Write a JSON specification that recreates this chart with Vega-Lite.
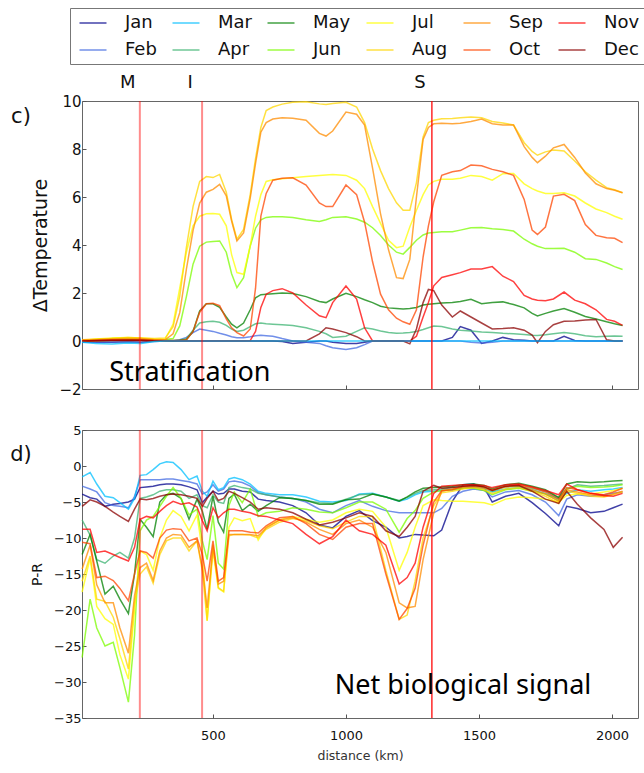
{
"$schema": "https://vega.github.io/schema/vega-lite/v6.json",
"autosize": {"type": "pad"},
"padding": {"left": 9, "top": 7, "right": 6, "bottom": 6},
"bounds": "flush",
"spacing": 41,
"background": "white",
"config": {
  "view": {"stroke": "#666", "strokeWidth": 1},
  "font": "DejaVu Sans",
  "axis": {"grid": false, "domain": false, "tickSize": -4, "tickColor": "#555", "labelFont": "DejaVu Sans", "titleFont": "DejaVu Sans", "titleFontWeight": "normal", "labelColor": "#111", "titleColor": "#111", "labelOverlap": false, "format": "d"}
},
"datasets": {
  "vl": [{"lab": "M", "d": 225}, {"lab": "I", "d": 459}, {"lab": "S", "d": 1323}],
  "annTop": [{"lab": "c)", "d": -222, "v": 9.33}],
  "annBot": [{"lab": "d)", "d": -222, "v": 1.53}],
  "txtTop": [{"lab": "Stratification", "d": 413, "v": -1.67}],
  "txtBot": [{"lab": "Net biological signal", "d": 1440, "v": -31.67}],
  "temp": [
{"d":8,"Jan":-0.05,"Feb":-0.05,"Mar":-0.05,"Apr":0,"May":0,"Jun":0,"Jul":0.02,"Aug":0.05,"Sep":0.05,"Oct":0,"Nov":0,"Dec":0},
{"d":60,"Jan":-0.05,"Feb":-0.05,"Mar":-0.1,"Apr":0,"May":0.02,"Jun":0.05,"Jul":0.08,"Aug":0.08,"Sep":0.05,"Oct":0.02,"Nov":0.01,"Dec":0.02},
{"d":120,"Jan":-0.05,"Feb":-0.04,"Mar":-0.12,"Apr":0.02,"May":0.03,"Jun":0.1,"Jul":0.12,"Aug":0.1,"Sep":0.08,"Oct":0.05,"Nov":0.02,"Dec":0.03},
{"d":180,"Jan":-0.03,"Feb":-0.03,"Mar":-0.08,"Apr":0.03,"May":0.05,"Jun":0.12,"Jul":0.15,"Aug":0.15,"Sep":0.1,"Oct":0.05,"Nov":0.02,"Dec":0.03},
{"d":230,"Jan":-0.05,"Feb":-0.05,"Mar":-0.1,"Apr":0.02,"May":0.04,"Jun":0.08,"Jul":0.12,"Aug":0.12,"Sep":0.1,"Oct":0.05,"Nov":0.02,"Dec":0.03},
{"d":280,"Jan":0,"Feb":-0.02,"Mar":-0.02,"Apr":0.01,"May":0.02,"Jun":0.05,"Jul":0.08,"Aug":0.1,"Sep":0.05,"Oct":0.03,"Nov":0.01,"Dec":0.01},
{"d":320,"Jan":0,"Feb":0,"Mar":0,"Apr":0.01,"May":0.02,"Jun":0.06,"Jul":0.07,"Aug":0.12,"Sep":0.05,"Oct":0.02,"Nov":0.01,"Dec":0.01},
{"d":350,"Jan":0,"Feb":0,"Mar":0,"Apr":0.01,"May":0.02,"Jun":0.1,"Jul":0.7,"Aug":0.6,"Sep":0.3,"Oct":0.02,"Nov":0.01,"Dec":0},
{"d":375,"Jan":0,"Feb":0.05,"Mar":0,"Apr":0.03,"May":0.03,"Jun":0.63,"Jul":2.2,"Aug":1.87,"Sep":1.18,"Oct":0.02,"Nov":0.01,"Dec":0},
{"d":400,"Jan":0,"Feb":0.15,"Mar":0,"Apr":0.1,"May":0.05,"Jun":1.85,"Jul":3.7,"Aug":3.9,"Sep":2.99,"Oct":0.05,"Nov":0.01,"Dec":0},
{"d":425,"Jan":0,"Feb":0.35,"Mar":0,"Apr":0.45,"May":0.4,"Jun":3.2,"Jul":4.8,"Aug":5.6,"Sep":4.6,"Oct":0.4,"Nov":0.01,"Dec":0},
{"d":450,"Jan":0,"Feb":0.5,"Mar":0,"Apr":0.75,"May":1.25,"Jun":3.95,"Jul":5.2,"Aug":6.65,"Sep":5.75,"Oct":1.2,"Nov":0.01,"Dec":0},
{"d":475,"Jan":0,"Feb":0.45,"Mar":0,"Apr":0.8,"May":1.55,"Jun":4.12,"Jul":5.3,"Aug":6.85,"Sep":6.2,"Oct":1.55,"Nov":0.01,"Dec":0},
{"d":500,"Jan":0,"Feb":0.4,"Mar":0,"Apr":0.82,"May":1.55,"Jun":4.15,"Jul":5.31,"Aug":6.81,"Sep":6.32,"Oct":1.57,"Nov":0.01,"Dec":0},
{"d":525,"Jan":0,"Feb":0.32,"Mar":0,"Apr":0.78,"May":1.4,"Jun":4.17,"Jul":5.28,"Aug":6.94,"Sep":6.53,"Oct":1.47,"Nov":0.01,"Dec":0},
{"d":550,"Jan":0,"Feb":0.25,"Mar":0,"Apr":0.65,"May":1.0,"Jun":3.7,"Jul":4.8,"Aug":6.2,"Sep":6.05,"Oct":0.92,"Nov":0.01,"Dec":0},
{"d":570,"Jan":0,"Feb":0.18,"Mar":0,"Apr":0.5,"May":0.7,"Jun":2.8,"Jul":3.6,"Aug":5.07,"Sep":5.0,"Oct":0.55,"Nov":0.01,"Dec":0},
{"d":590,"Jan":0,"Feb":0.14,"Mar":0,"Apr":0.4,"May":0.55,"Jun":2.22,"Jul":2.85,"Aug":4.24,"Sep":4.17,"Oct":0.35,"Nov":0.01,"Dec":0},
{"d":615,"Jan":0,"Feb":0.14,"Mar":0,"Apr":0.45,"May":0.75,"Jun":2.64,"Jul":2.78,"Aug":4.65,"Sep":4.5,"Oct":0.21,"Nov":0.01,"Dec":0},
{"d":640,"Jan":0,"Feb":0.18,"Mar":0,"Apr":0.6,"May":1.3,"Jun":3.96,"Jul":3.96,"Aug":6.1,"Sep":5.95,"Oct":0.5,"Nov":0.02,"Dec":0},
{"d":660,"Jan":0,"Feb":0.22,"Mar":0,"Apr":0.72,"May":1.8,"Jun":4.7,"Jul":5.2,"Aug":7.6,"Sep":7.4,"Oct":2.2,"Nov":0.4,"Dec":0},
{"d":680,"Jan":0,"Feb":0.24,"Mar":0,"Apr":0.75,"May":1.93,"Jun":5.05,"Jul":6.1,"Aug":8.9,"Sep":8.7,"Oct":5.2,"Nov":1.4,"Dec":0},
{"d":700,"Jan":0,"Feb":0.22,"Mar":0,"Apr":0.72,"May":1.95,"Jun":5.15,"Jul":6.65,"Aug":9.6,"Sep":9.1,"Oct":6.15,"Nov":1.95,"Dec":0},
{"d":725,"Jan":0,"Feb":0.2,"Mar":0,"Apr":0.7,"May":1.97,"Jun":5.18,"Jul":6.72,"Aug":9.75,"Sep":9.25,"Oct":6.7,"Nov":2.1,"Dec":0},
{"d":760,"Jan":-0.02,"Feb":0.1,"Mar":0,"Apr":0.68,"May":2.0,"Jun":5.18,"Jul":6.76,"Aug":9.87,"Sep":9.3,"Oct":6.78,"Nov":2.18,"Dec":0},
{"d":800,"Jan":-0.1,"Feb":0,"Mar":0,"Apr":0.65,"May":1.98,"Jun":5.15,"Jul":6.8,"Aug":9.95,"Sep":9.28,"Oct":6.8,"Nov":2.0,"Dec":0},
{"d":850,"Jan":-0.05,"Feb":-0.05,"Mar":0,"Apr":0.55,"May":1.85,"Jun":5.05,"Jul":6.85,"Aug":9.97,"Sep":9.2,"Oct":6.5,"Nov":1.5,"Dec":0},
{"d":900,"Jan":0,"Feb":-0.1,"Mar":0,"Apr":0.4,"May":1.65,"Jun":4.98,"Jul":6.9,"Aug":9.88,"Sep":8.65,"Oct":5.75,"Nov":1.05,"Dec":0.3},
{"d":925,"Jan":0,"Feb":-0.2,"Mar":0,"Apr":0.3,"May":1.6,"Jun":5.05,"Jul":6.92,"Aug":9.85,"Sep":8.54,"Oct":5.6,"Nov":0.97,"Dec":0.55},
{"d":950,"Jan":-0.05,"Feb":-0.28,"Mar":0,"Apr":0.15,"May":1.75,"Jun":5.15,"Jul":6.94,"Aug":9.9,"Sep":8.75,"Oct":5.6,"Nov":1.6,"Dec":0.5},
{"d":1000,"Jan":-0.1,"Feb":-0.35,"Mar":0,"Apr":0.2,"May":1.99,"Jun":5.18,"Jul":6.9,"Aug":9.95,"Sep":9.54,"Oct":6.5,"Nov":2.29,"Dec":0.35},
{"d":1040,"Jan":-0.1,"Feb":-0.28,"Mar":0,"Apr":0.4,"May":1.85,"Jun":5.08,"Jul":6.7,"Aug":9.75,"Sep":9.45,"Oct":6.1,"Nov":1.75,"Dec":0.18},
{"d":1070,"Jan":-0.05,"Feb":-0.15,"Mar":0,"Apr":0.55,"May":1.72,"Jun":4.95,"Jul":6.35,"Aug":9.1,"Sep":9.0,"Oct":4.95,"Nov":0.55,"Dec":0},
{"d":1100,"Jan":0,"Feb":0,"Mar":0,"Apr":0.5,"May":1.6,"Jun":4.72,"Jul":5.6,"Aug":8.0,"Sep":7.2,"Oct":3.3,"Nov":0,"Dec":0},
{"d":1130,"Jan":0,"Feb":0,"Mar":0,"Apr":0.42,"May":1.45,"Jun":4.4,"Jul":4.9,"Aug":7.1,"Sep":5.3,"Oct":1.95,"Nov":0,"Dec":0},
{"d":1160,"Jan":0,"Feb":0,"Mar":0,"Apr":0.35,"May":1.38,"Jun":4.0,"Jul":4.2,"Aug":6.35,"Sep":3.8,"Oct":1.3,"Nov":0,"Dec":0},
{"d":1190,"Jan":0,"Feb":0,"Mar":0,"Apr":0.32,"May":1.35,"Jun":3.7,"Jul":3.89,"Aug":5.76,"Sep":2.64,"Oct":0.95,"Nov":0,"Dec":0},
{"d":1215,"Jan":0,"Feb":0,"Mar":0,"Apr":0.33,"May":1.33,"Jun":3.62,"Jul":3.95,"Aug":5.45,"Sep":2.6,"Oct":0.8,"Nov":0,"Dec":0},
{"d":1240,"Jan":0,"Feb":0,"Mar":0,"Apr":0.35,"May":1.35,"Jun":3.9,"Jul":4.75,"Aug":5.45,"Sep":3.4,"Oct":0.7,"Nov":0,"Dec":-0.12},
{"d":1265,"Jan":0,"Feb":0,"Mar":0,"Apr":0.4,"May":1.4,"Jun":4.2,"Jul":5.45,"Aug":6.6,"Sep":6.0,"Oct":1.3,"Nov":0.2,"Dec":0.5},
{"d":1290,"Jan":0,"Feb":0,"Mar":0,"Apr":0.48,"May":1.5,"Jun":4.42,"Jul":6.1,"Aug":8.5,"Sep":8.4,"Oct":3.5,"Nov":1.0,"Dec":1.6},
{"d":1310,"Jan":0,"Feb":0,"Mar":0,"Apr":0.55,"May":1.53,"Jun":4.5,"Jul":6.5,"Aug":9.1,"Sep":8.9,"Oct":4.8,"Nov":1.6,"Dec":2.15},
{"d":1330,"Jan":0,"Feb":0,"Mar":0,"Apr":0.62,"May":1.55,"Jun":4.52,"Jul":6.65,"Aug":9.2,"Sep":9.05,"Oct":5.8,"Nov":2.3,"Dec":2.1},
{"d":1360,"Jan":0,"Feb":0,"Mar":0,"Apr":0.6,"May":1.58,"Jun":4.55,"Jul":6.74,"Aug":9.26,"Sep":9.07,"Oct":6.9,"Nov":2.65,"Dec":1.5},
{"d":1400,"Jan":0.15,"Feb":0,"Mar":0,"Apr":0.5,"May":1.6,"Jun":4.55,"Jul":6.74,"Aug":9.27,"Sep":9.05,"Oct":7.05,"Nov":2.76,"Dec":1.0},
{"d":1430,"Jan":0.6,"Feb":0,"Mar":0,"Apr":0.45,"May":1.65,"Jun":4.62,"Jul":6.78,"Aug":9.3,"Sep":9.07,"Oct":7.1,"Nov":2.85,"Dec":1.25},
{"d":1470,"Jan":0.45,"Feb":-0.05,"Mar":0,"Apr":0.42,"May":1.74,"Jun":4.72,"Jul":6.9,"Aug":9.33,"Sep":9.15,"Oct":7.33,"Nov":3.0,"Dec":1.0},
{"d":1510,"Jan":-0.1,"Feb":-0.08,"Mar":0,"Apr":0.38,"May":1.55,"Jun":4.73,"Jul":6.85,"Aug":9.3,"Sep":9.25,"Oct":7.3,"Nov":3.0,"Dec":0.75},
{"d":1550,"Jan":0,"Feb":-0.05,"Mar":0,"Apr":0.35,"May":1.6,"Jun":4.68,"Jul":6.7,"Aug":9.15,"Sep":9.05,"Oct":7.15,"Nov":3.1,"Dec":0.5},
{"d":1590,"Jan":0.15,"Feb":0,"Mar":0,"Apr":0.32,"May":1.63,"Jun":4.65,"Jul":6.97,"Aug":9.08,"Sep":9.0,"Oct":7.05,"Nov":2.7,"Dec":0.52},
{"d":1630,"Jan":0.05,"Feb":0,"Mar":0,"Apr":0.3,"May":1.52,"Jun":4.58,"Jul":6.98,"Aug":9.0,"Sep":9.0,"Oct":6.9,"Nov":2.48,"Dec":0.55},
{"d":1670,"Jan":0.03,"Feb":0,"Mar":0,"Apr":0.27,"May":1.38,"Jun":4.24,"Jul":6.55,"Aug":8.26,"Sep":8.1,"Oct":5.9,"Nov":1.9,"Dec":0.45},
{"d":1700,"Jan":0,"Feb":0,"Mar":0,"Apr":0.24,"May":1.15,"Jun":4.05,"Jul":6.35,"Aug":7.9,"Sep":7.65,"Oct":4.62,"Nov":1.75,"Dec":0.25},
{"d":1720,"Jan":0,"Feb":0,"Mar":0,"Apr":0.23,"May":1.04,"Jun":3.95,"Jul":6.25,"Aug":7.74,"Sep":7.43,"Oct":4.44,"Nov":1.7,"Dec":-0.07},
{"d":1750,"Jan":0,"Feb":0,"Mar":0,"Apr":0.26,"May":1.15,"Jun":3.85,"Jul":6.15,"Aug":7.88,"Sep":7.7,"Oct":4.75,"Nov":1.68,"Dec":0.4},
{"d":1780,"Jan":0,"Feb":0,"Mar":0,"Apr":0.3,"May":1.25,"Jun":3.85,"Jul":6.15,"Aug":7.96,"Sep":8.05,"Oct":6.04,"Nov":1.75,"Dec":0.68},
{"d":1820,"Jan":0.2,"Feb":0,"Mar":0,"Apr":0.35,"May":1.35,"Jun":3.86,"Jul":6.18,"Aug":7.92,"Sep":8.19,"Oct":6.11,"Nov":2.04,"Dec":0.82},
{"d":1860,"Jan":0.02,"Feb":0,"Mar":0,"Apr":0.3,"May":1.2,"Jun":3.7,"Jul":6.04,"Aug":7.5,"Sep":7.65,"Oct":5.85,"Nov":1.7,"Dec":0.83},
{"d":1900,"Jan":0,"Feb":0,"Mar":0,"Apr":0.22,"May":1.02,"Jun":3.43,"Jul":5.75,"Aug":7.05,"Sep":7.0,"Oct":4.85,"Nov":1.55,"Dec":0.88},
{"d":1940,"Jan":0,"Feb":0,"Mar":0,"Apr":0.18,"May":0.92,"Jun":3.4,"Jul":5.5,"Aug":6.7,"Sep":6.55,"Oct":4.4,"Nov":1.3,"Dec":0.9},
{"d":1980,"Jan":0,"Feb":0,"Mar":0,"Apr":0.2,"May":0.8,"Jun":3.25,"Jul":5.35,"Aug":6.39,"Sep":6.35,"Oct":4.3,"Nov":0.9,"Dec":0.05},
{"d":2010,"Jan":0,"Feb":0,"Mar":0,"Apr":0.21,"May":0.72,"Jun":3.1,"Jul":5.2,"Aug":6.3,"Sep":6.28,"Oct":4.28,"Nov":0.82,"Dec":0},
{"d":2040,"Jan":0,"Feb":0,"Mar":0,"Apr":0.2,"May":0.65,"Jun":2.98,"Jul":5.07,"Aug":6.18,"Sep":6.18,"Oct":4.1,"Nov":0.65,"Dec":0}
  ],
  "pr": [
{"d":8,"Jan":-3.9,"Feb":-2.8,"Mar":-1.5,"Apr":-7.5,"May":-12.3,"Jun":-26.6,"Jul":-17.5,"Aug":-16.0,"Sep":-14.3,"Oct":-10.6,"Nov":-8.8,"Dec":-5.6},
{"d":38,"Jan":-4.4,"Feb":-3.2,"Mar":-0.9,"Apr":-9.6,"May":-9.5,"Jun":-18.5,"Jul":-12.8,"Aug":-12.5,"Sep":-11.0,"Oct":-10.8,"Nov":-8.8,"Dec":-4.7},
{"d":63,"Jan":-4.6,"Feb":-3.6,"Mar":-2.5,"Apr":-13.0,"May":-13.2,"Jun":-22.5,"Jul":-19.5,"Aug":-18.5,"Sep":-16.5,"Oct":-15.5,"Nov":-12.0,"Dec":-5.0},
{"d":94,"Jan":-5.6,"Feb":-5.1,"Mar":-4.2,"Apr":-13.5,"May":-17.8,"Jun":-25.0,"Jul":-21.2,"Aug":-18.8,"Sep":-19.0,"Oct":-15.3,"Nov":-11.8,"Dec":-5.6},
{"d":125,"Jan":-5.3,"Feb":-5.5,"Mar":-4.4,"Apr":-12.5,"May":-16.7,"Jun":-24.5,"Jul":-22.0,"Aug":-21.0,"Sep":-19.0,"Oct":-15.9,"Nov":-12.3,"Dec":-6.4},
{"d":150,"Jan":-5.2,"Feb":-5.6,"Mar":-5.1,"Apr":-12.0,"May":-18.5,"Jun":-28.0,"Jul":-26.2,"Aug":-24.0,"Sep":-22.5,"Oct":-17.0,"Nov":-12.7,"Dec":-7.0},
{"d":182,"Jan":-5.0,"Feb":-5.8,"Mar":-6.0,"Apr":-12.8,"May":-20.5,"Jun":-32.8,"Jul":-29.6,"Aug":-28.2,"Sep":-26.0,"Oct":-18.7,"Nov":-13.2,"Dec":-7.7},
{"d":205,"Jan":-4.6,"Feb":-4.2,"Mar":-4.5,"Apr":-10.0,"May":-15.0,"Jun":-23.5,"Jul":-20.0,"Aug":-19.0,"Sep":-18.0,"Oct":-15.0,"Nov":-11.3,"Dec":-6.0},
{"d":226,"Jan":-3.0,"Feb":-1.9,"Mar":-1.3,"Apr":-4.5,"May":-7.4,"Jun":-9.0,"Jul":-11.8,"Aug":-15.0,"Sep":-14.1,"Oct":-11.8,"Nov":-7.4,"Dec":-4.6},
{"d":250,"Jan":-2.9,"Feb":-1.9,"Mar":-1.2,"Apr":-4.3,"May":-8.5,"Jun":-7.5,"Jul":-12.3,"Aug":-14.0,"Sep":-13.5,"Oct":-12.0,"Nov":-7.0,"Dec":-4.7},
{"d":275,"Jan":-2.8,"Feb":-1.9,"Mar":-0.5,"Apr":-4.0,"May":-9.8,"Jun":-7.0,"Jul":-14.5,"Aug":-16.3,"Sep":-15.9,"Oct":-12.8,"Nov":-7.2,"Dec":-4.5},
{"d":300,"Jan":-2.6,"Feb":-1.9,"Mar":0.3,"Apr":-3.5,"May":-5.0,"Jun":-5.6,"Jul":-10.0,"Aug":-12.3,"Sep":-11.8,"Oct":-10.0,"Nov":-6.3,"Dec":-4.2},
{"d":325,"Jan":-2.5,"Feb":-1.8,"Mar":0.6,"Apr":-3.3,"May":-4.0,"Jun":-4.2,"Jul":-7.5,"Aug":-10.4,"Sep":-10.0,"Oct":-8.9,"Nov":-5.5,"Dec":-4.0},
{"d":350,"Jan":-2.5,"Feb":-1.8,"Mar":0.5,"Apr":-3.3,"May":-3.8,"Jun":-3.0,"Jul":-6.2,"Aug":-10.0,"Sep":-9.5,"Oct":-8.7,"Nov":-4.9,"Dec":-3.9},
{"d":380,"Jan":-2.6,"Feb":-2.0,"Mar":-0.5,"Apr":-3.5,"May":-4.5,"Jun":-4.5,"Jul":-7.0,"Aug":-10.0,"Sep":-9.6,"Oct":-8.8,"Nov":-5.3,"Dec":-4.0},
{"d":410,"Jan":-2.9,"Feb":-2.2,"Mar":-1.9,"Apr":-4.5,"May":-7.4,"Jun":-6.8,"Jul":-9.0,"Aug":-11.8,"Sep":-11.3,"Oct":-10.4,"Nov":-5.1,"Dec":-4.2},
{"d":440,"Jan":-3.3,"Feb":-2.5,"Mar":-1.4,"Apr":-4.0,"May":-4.6,"Jun":-6.0,"Jul":-6.8,"Aug":-10.4,"Sep":-10.4,"Oct":-10.0,"Nov":-5.7,"Dec":-4.5},
{"d":460,"Jan":-5.1,"Feb":-3.9,"Mar":-3.5,"Apr":-5.5,"May":-6.3,"Jun":-10.4,"Jul":-11.8,"Aug":-14.6,"Sep":-14.1,"Oct":-12.3,"Nov":-7.6,"Dec":-5.6},
{"d":478,"Jan":-4.3,"Feb":-3.6,"Mar":-4.2,"Apr":-5.8,"May":-8.8,"Jun":-13.0,"Jul":-21.5,"Aug":-21.5,"Sep":-19.7,"Oct":-16.0,"Nov":-9.0,"Dec":-4.5},
{"d":500,"Jan":-3.5,"Feb":-2.6,"Mar":-2.1,"Apr":-4.0,"May":-4.2,"Jun":-6.9,"Jul":-11.8,"Aug":-10.9,"Sep":-11.3,"Oct":-10.4,"Nov":-5.8,"Dec":-3.5},
{"d":520,"Jan":-3.9,"Feb":-3.5,"Mar":-3.3,"Apr":-5.0,"May":-7.8,"Jun":-13.5,"Jul":-17.0,"Aug":-16.9,"Sep":-16.4,"Oct":-16.0,"Nov":-7.2,"Dec":-4.8},
{"d":540,"Jan":-3.8,"Feb":-3.2,"Mar":-3.0,"Apr":-5.2,"May":-9.2,"Jun":-14.3,"Jul":-17.5,"Aug":-17.4,"Sep":-16.0,"Oct":-15.5,"Nov":-6.5,"Dec":-4.5},
{"d":560,"Jan":-3.2,"Feb":-2.2,"Mar":-1.8,"Apr":-3.0,"May":-4.5,"Jun":-5.5,"Jul":-8.5,"Aug":-9.7,"Sep":-9.5,"Oct":-9.0,"Nov":-6.0,"Dec":-3.5},
{"d":580,"Jan":-3.2,"Feb":-2.1,"Mar":-1.6,"Apr":-2.7,"May":-3.9,"Jun":-3.6,"Jul":-7.2,"Aug":-9.5,"Sep":-9.5,"Oct":-9.0,"Nov":-6.0,"Dec":-3.8},
{"d":610,"Jan":-3.5,"Feb":-2.3,"Mar":-1.9,"Apr":-3.0,"May":-6.2,"Jun":-5.1,"Jul":-7.6,"Aug":-9.5,"Sep":-9.5,"Oct":-9.0,"Nov":-6.3,"Dec":-4.4},
{"d":640,"Jan":-3.6,"Feb":-2.8,"Mar":-2.5,"Apr":-3.2,"May":-5.3,"Jun":-3.2,"Jul":-7.3,"Aug":-9.6,"Sep":-9.5,"Oct":-9.2,"Nov":-6.5,"Dec":-5.0},
{"d":670,"Jan":-4.6,"Feb":-3.7,"Mar":-3.5,"Apr":-3.8,"May":-6.3,"Jun":-7.0,"Jul":-10.3,"Aug":-10.0,"Sep":-9.7,"Oct":-9.3,"Nov":-6.9,"Dec":-6.0},
{"d":700,"Jan":-4.8,"Feb":-4.0,"Mar":-3.8,"Apr":-4.0,"May":-5.5,"Jun":-6.5,"Jul":-8.5,"Aug":-8.8,"Sep":-8.6,"Oct":-8.3,"Nov":-7.0,"Dec":-5.8},
{"d":750,"Jan":-5.0,"Feb":-4.3,"Mar":-4.0,"Apr":-4.3,"May":-4.4,"Jun":-6.3,"Jul":-7.5,"Aug":-7.8,"Sep":-7.5,"Oct":-7.2,"Nov":-7.5,"Dec":-6.0},
{"d":800,"Jan":-5.5,"Feb":-4.5,"Mar":-4.0,"Apr":-4.5,"May":-4.5,"Jun":-5.8,"Jul":-7.0,"Aug":-7.3,"Sep":-7.2,"Oct":-7.0,"Nov":-8.0,"Dec":-6.5},
{"d":850,"Jan":-6.5,"Feb":-5.0,"Mar":-4.3,"Apr":-4.8,"May":-4.8,"Jun":-6.0,"Jul":-7.4,"Aug":-7.6,"Sep":-7.8,"Oct":-8.0,"Nov":-9.5,"Dec":-7.4},
{"d":900,"Jan":-8.2,"Feb":-6.0,"Mar":-4.9,"Apr":-5.1,"May":-5.3,"Jun":-6.4,"Jul":-7.8,"Aug":-8.3,"Sep":-8.8,"Oct":-9.5,"Nov":-10.8,"Dec":-8.2},
{"d":950,"Jan":-8.6,"Feb":-6.5,"Mar":-5.0,"Apr":-5.2,"May":-5.3,"Jun":-6.5,"Jul":-7.5,"Aug":-8.7,"Sep":-9.5,"Oct":-10.2,"Nov":-9.8,"Dec":-7.8},
{"d":1000,"Jan":-7.0,"Feb":-5.5,"Mar":-4.8,"Apr":-4.6,"May":-4.7,"Jun":-5.8,"Jul":-6.5,"Aug":-7.8,"Sep":-8.0,"Oct":-8.5,"Nov":-7.5,"Dec":-7.2},
{"d":1050,"Jan":-6.2,"Feb":-4.8,"Mar":-3.9,"Apr":-4.0,"May":-4.6,"Jun":-5.0,"Jul":-6.0,"Aug":-7.0,"Sep":-7.5,"Oct":-8.0,"Nov":-9.0,"Dec":-6.5},
{"d":1100,"Jan":-7.6,"Feb":-5.6,"Mar":-3.8,"Apr":-3.9,"May":-3.9,"Jun":-5.0,"Jul":-6.3,"Aug":-7.0,"Sep":-8.5,"Oct":-8.0,"Nov":-9.5,"Dec":-7.0},
{"d":1150,"Jan":-8.5,"Feb":-6.2,"Mar":-4.3,"Apr":-4.3,"May":-4.3,"Jun":-6.0,"Jul":-8.5,"Aug":-14.5,"Sep":-12.0,"Oct":-15.0,"Nov":-11.0,"Dec":-9.0},
{"d":1200,"Jan":-10.0,"Feb":-6.5,"Mar":-4.9,"Apr":-4.8,"May":-4.9,"Jun":-9.2,"Jul":-14.5,"Aug":-21.3,"Sep":-19.0,"Oct":-21.3,"Nov":-16.4,"Dec":-9.8},
{"d":1230,"Jan":-9.8,"Feb":-6.5,"Mar":-4.6,"Apr":-4.4,"May":-4.3,"Jun":-7.3,"Jul":-12.0,"Aug":-20.7,"Sep":-19.7,"Oct":-19.8,"Nov":-15.5,"Dec":-8.5},
{"d":1260,"Jan":-9.5,"Feb":-6.5,"Mar":-4.0,"Apr":-3.8,"May":-3.6,"Jun":-6.2,"Jul":-8.5,"Aug":-16.0,"Sep":-19.5,"Oct":-17.0,"Nov":-13.5,"Dec":-7.0},
{"d":1290,"Jan":-9.6,"Feb":-6.5,"Mar":-3.6,"Apr":-3.4,"May":-3.1,"Jun":-4.5,"Jul":-5.5,"Aug":-10.0,"Sep":-13.0,"Oct":-11.0,"Nov":-8.5,"Dec":-3.5},
{"d":1330,"Jan":-9.7,"Feb":-6.5,"Mar":-3.5,"Apr":-3.3,"May":-3.0,"Jun":-3.6,"Jul":-4.7,"Aug":-5.5,"Sep":-6.5,"Oct":-5.0,"Nov":-3.8,"Dec":-2.7},
{"d":1360,"Jan":-8.9,"Feb":-5.9,"Mar":-3.4,"Apr":-3.2,"May":-2.9,"Jun":-3.4,"Jul":-4.8,"Aug":-3.7,"Sep":-3.5,"Oct":-3.4,"Nov":-2.8,"Dec":-3.1},
{"d":1400,"Jan":-4.9,"Feb":-4.2,"Mar":-3.3,"Apr":-3.0,"May":-2.8,"Jun":-3.3,"Jul":-4.9,"Aug":-3.5,"Sep":-3.2,"Oct":-3.3,"Nov":-2.7,"Dec":-3.0},
{"d":1440,"Jan":-2.6,"Feb":-3.5,"Mar":-3.1,"Apr":-2.9,"May":-2.6,"Jun":-3.1,"Jul":-4.9,"Aug":-3.2,"Sep":-3.0,"Oct":-2.8,"Nov":-2.6,"Dec":-2.8},
{"d":1480,"Jan":-2.5,"Feb":-3.2,"Mar":-3.0,"Apr":-2.8,"May":-2.5,"Jun":-3.1,"Jul":-5.0,"Aug":-3.0,"Sep":-2.9,"Oct":-2.7,"Nov":-2.6,"Dec":-2.7},
{"d":1520,"Jan":-3.0,"Feb":-3.4,"Mar":-3.2,"Apr":-3.0,"May":-2.7,"Jun":-3.4,"Jul":-5.1,"Aug":-3.3,"Sep":-3.1,"Oct":-2.9,"Nov":-2.7,"Dec":-2.9},
{"d":1550,"Jan":-5.0,"Feb":-4.3,"Mar":-3.6,"Apr":-3.5,"May":-3.2,"Jun":-4.0,"Jul":-5.4,"Aug":-3.8,"Sep":-3.4,"Oct":-3.3,"Nov":-3.0,"Dec":-3.4},
{"d":1600,"Jan":-4.2,"Feb":-3.6,"Mar":-3.2,"Apr":-2.9,"May":-2.6,"Jun":-3.3,"Jul":-4.6,"Aug":-3.2,"Sep":-2.9,"Oct":-2.8,"Nov":-2.6,"Dec":-2.8},
{"d":1650,"Jan":-3.8,"Feb":-3.4,"Mar":-3.0,"Apr":-2.8,"May":-2.4,"Jun":-3.1,"Jul":-4.3,"Aug":-3.0,"Sep":-2.7,"Oct":-2.6,"Nov":-2.5,"Dec":-2.7},
{"d":1700,"Jan":-5.1,"Feb":-4.0,"Mar":-3.3,"Apr":-3.1,"May":-2.8,"Jun":-3.5,"Jul":-4.4,"Aug":-3.5,"Sep":-3.3,"Oct":-3.0,"Nov":-2.9,"Dec":-3.5},
{"d":1750,"Jan":-6.6,"Feb":-5.0,"Mar":-3.8,"Apr":-3.5,"May":-3.3,"Jun":-3.9,"Jul":-4.6,"Aug":-4.2,"Sep":-3.9,"Oct":-3.6,"Nov":-3.4,"Dec":-4.6},
{"d":1800,"Jan":-8.3,"Feb":-6.9,"Mar":-4.6,"Apr":-4.4,"May":-4.4,"Jun":-4.8,"Jul":-5.0,"Aug":-5.2,"Sep":-4.9,"Oct":-4.6,"Nov":-4.0,"Dec":-5.2},
{"d":1830,"Jan":-5.6,"Feb":-4.6,"Mar":-3.8,"Apr":-3.2,"May":-2.5,"Jun":-3.2,"Jul":-4.1,"Aug":-3.5,"Sep":-3.3,"Oct":-3.0,"Nov":-2.5,"Dec":-3.5},
{"d":1870,"Jan":-5.9,"Feb":-4.0,"Mar":-3.3,"Apr":-2.6,"May":-2.2,"Jun":-2.8,"Jul":-3.9,"Aug":-3.8,"Sep":-3.6,"Oct":-3.3,"Nov":-3.3,"Dec":-5.3},
{"d":1920,"Jan":-6.5,"Feb":-4.2,"Mar":-3.5,"Apr":-2.8,"May":-2.3,"Jun":-3.0,"Jul":-3.9,"Aug":-4.2,"Sep":-4.0,"Oct":-3.8,"Nov":-3.8,"Dec":-7.2},
{"d":1970,"Jan":-6.3,"Feb":-4.0,"Mar":-3.3,"Apr":-2.7,"May":-2.2,"Jun":-2.9,"Jul":-3.6,"Aug":-4.3,"Sep":-4.2,"Oct":-4.0,"Nov":-4.1,"Dec":-8.8},
{"d":2005,"Jan":-5.8,"Feb":-3.8,"Mar":-3.2,"Apr":-2.6,"May":-2.1,"Jun":-2.8,"Jul":-3.4,"Aug":-4.0,"Sep":-3.9,"Oct":-3.6,"Nov":-4.2,"Dec":-11.3},
{"d":2040,"Jan":-5.3,"Feb":-3.6,"Mar":-3.0,"Apr":-2.5,"May":-2.0,"Jun":-2.6,"Jul":-3.1,"Aug":-3.6,"Sep":-3.5,"Oct":-3.1,"Nov":-3.8,"Dec":-9.9}
  ]
},
"resolve": {"scale": {"stroke": "shared"}, "legend": {"stroke": "shared"}},
"vconcat": [
  {
    "width": 556,
    "height": 288,
    "layer": [
      {
        "data": {"name": "temp"},
        "transform": [{"fold": ["Jan","Feb","Apr","May","Jun","Jul","Aug","Sep","Oct","Nov","Dec","Mar"], "as": ["month", "value"]}],
        "mark": {"type": "line", "strokeWidth": 1.5, "opacity": 0.75},
        "encoding": {
          "x": {"field": "d", "type": "quantitative", "scale": {"domain": [7.5, 2098], "nice": false, "zero": false}, "axis": {"values": [500, 1000, 1500, 2000], "tickCount": 12, "labels": false, "title": null}},
          "y": {"field": "value", "type": "quantitative", "scale": {"domain": [-2, 10], "nice": false, "zero": false}, "axis": {"values": [-2, 0, 2, 4, 6, 8, 10], "tickCount": 12, "labelOverlap": false, "labelFontSize": 15, "labelPadding": 5, "title": "ΔTemperature", "titleFontSize": 19, "titlePadding": 8.5}},
          "stroke": {"field": "month", "type": "nominal",
            "scale": {"domain": ["Jan","Mar","May","Jul","Sep","Nov","Feb","Apr","Jun","Aug","Oct","Dec"], "range": ["#00008b","#00bfff","#008000","#ffff00","#ff8c00","#ff0000","#4169e1","#3cb371","#7cfc00","#ffd700","#ff4500","#8b0000"]},
            "legend": {"title": null, "orient": "none", "legendX": -12, "legendY": -93, "direction": "horizontal", "columns": 6, "symbolType": "M-1.5,0H1.5", "symbolSize": 324, "symbolStrokeWidth": 2, "symbolOpacity": 0.55, "symbolOffset": 8, "labelFontSize": 18, "labelFont": "DejaVu Sans", "labelColor": "#111", "labelOffset": 22, "columnPadding": 11, "rowPadding": 8, "padding": 5, "strokeColor": "#777", "fillColor": "white"}}
        }
      },
      {
        "data": {"name": "vl"},
        "transform": [{"filter": "datum.lab != 'S'"}],
        "mark": {"type": "rule", "color": "#ff0000", "strokeWidth": 2, "opacity": 0.45},
        "encoding": {"x": {"field": "d", "type": "quantitative"}}
      },
      {
        "data": {"name": "vl"},
        "transform": [{"filter": "datum.lab == 'S'"}],
        "mark": {"type": "rule", "color": "#ff0000", "strokeWidth": 1.5, "opacity": 0.85},
        "encoding": {"x": {"field": "d", "type": "quantitative"}}
      },
      {
        "data": {"name": "vl"},
        "mark": {"type": "text", "fontSize": 18, "font": "DejaVu Sans", "dx": -12, "dy": -18, "baseline": "middle", "align": "center", "color": "#111"},
        "encoding": {"x": {"field": "d", "type": "quantitative"}, "y": {"datum": 10}, "text": {"field": "lab"}}
      },
      {
        "data": {"name": "annTop"},
        "mark": {"type": "text", "fontSize": 21, "font": "DejaVu Sans", "baseline": "middle", "align": "center", "color": "#111"},
        "encoding": {"x": {"field": "d", "type": "quantitative"}, "y": {"field": "v", "type": "quantitative"}, "text": {"field": "lab"}}
      },
      {
        "data": {"name": "txtTop"},
        "mark": {"type": "text", "fontSize": 27, "font": "Noto Sans", "baseline": "alphabetic", "align": "center", "color": "#000"},
        "encoding": {"x": {"field": "d", "type": "quantitative"}, "y": {"field": "v", "type": "quantitative"}, "text": {"field": "lab"}}
      }
    ]
  },
  {
    "width": 556,
    "height": 288,
    "layer": [
      {
        "data": {"name": "pr"},
        "transform": [{"fold": ["Jan","Feb","Mar","Apr","May","Jun","Jul","Aug","Sep","Oct","Nov","Dec"], "as": ["month", "value"]}],
        "mark": {"type": "line", "strokeWidth": 1.5, "opacity": 0.75},
        "encoding": {
          "x": {"field": "d", "type": "quantitative", "scale": {"domain": [7.5, 2098], "nice": false, "zero": false}, "axis": {"values": [500, 1000, 1500, 2000], "tickCount": 12, "labelOverlap": false, "labelFontSize": 13, "labelPadding": 15, "title": "distance (km)", "titleFontSize": 12.5, "titlePadding": 7, "titleColor": "#333"}},
          "y": {"field": "value", "type": "quantitative", "scale": {"domain": [-35, 5], "nice": false, "zero": false}, "axis": {"values": [-35, -30, -25, -20, -15, -10, -5, 0, 5], "tickCount": 12, "labelOverlap": false, "labelFontSize": 13, "labelPadding": 5, "title": "P-R", "titleFontSize": 14, "titlePadding": 9}},
          "stroke": {"field": "month", "type": "nominal",
            "scale": {"domain": ["Jan","Mar","May","Jul","Sep","Nov","Feb","Apr","Jun","Aug","Oct","Dec"], "range": ["#00008b","#00bfff","#008000","#ffff00","#ff8c00","#ff0000","#4169e1","#3cb371","#7cfc00","#ffd700","#ff4500","#8b0000"]},
            "legend": {"title": null, "orient": "none", "legendX": -12, "legendY": -93, "direction": "horizontal", "columns": 6, "symbolType": "M-1.5,0H1.5", "symbolSize": 324, "symbolStrokeWidth": 2, "symbolOpacity": 0.55, "symbolOffset": 8, "labelFontSize": 18, "labelFont": "DejaVu Sans", "labelColor": "#111", "labelOffset": 22, "columnPadding": 11, "rowPadding": 8, "padding": 5, "strokeColor": "#777", "fillColor": "white"}}
        }
      },
      {
        "data": {"name": "vl"},
        "transform": [{"filter": "datum.lab != 'S'"}],
        "mark": {"type": "rule", "color": "#ff0000", "strokeWidth": 2, "opacity": 0.45},
        "encoding": {"x": {"field": "d", "type": "quantitative"}}
      },
      {
        "data": {"name": "vl"},
        "transform": [{"filter": "datum.lab == 'S'"}],
        "mark": {"type": "rule", "color": "#ff0000", "strokeWidth": 1.5, "opacity": 0.85},
        "encoding": {"x": {"field": "d", "type": "quantitative"}}
      },
      {
        "data": {"name": "annBot"},
        "mark": {"type": "text", "fontSize": 21, "font": "DejaVu Sans", "baseline": "middle", "align": "center", "color": "#111"},
        "encoding": {"x": {"field": "d", "type": "quantitative"}, "y": {"field": "v", "type": "quantitative"}, "text": {"field": "lab"}}
      },
      {
        "data": {"name": "txtBot"},
        "mark": {"type": "text", "fontSize": 27, "font": "Noto Sans", "baseline": "alphabetic", "align": "center", "color": "#000"},
        "encoding": {"x": {"field": "d", "type": "quantitative"}, "y": {"field": "v", "type": "quantitative"}, "text": {"field": "lab"}}
      }
    ]
  }
]
}
